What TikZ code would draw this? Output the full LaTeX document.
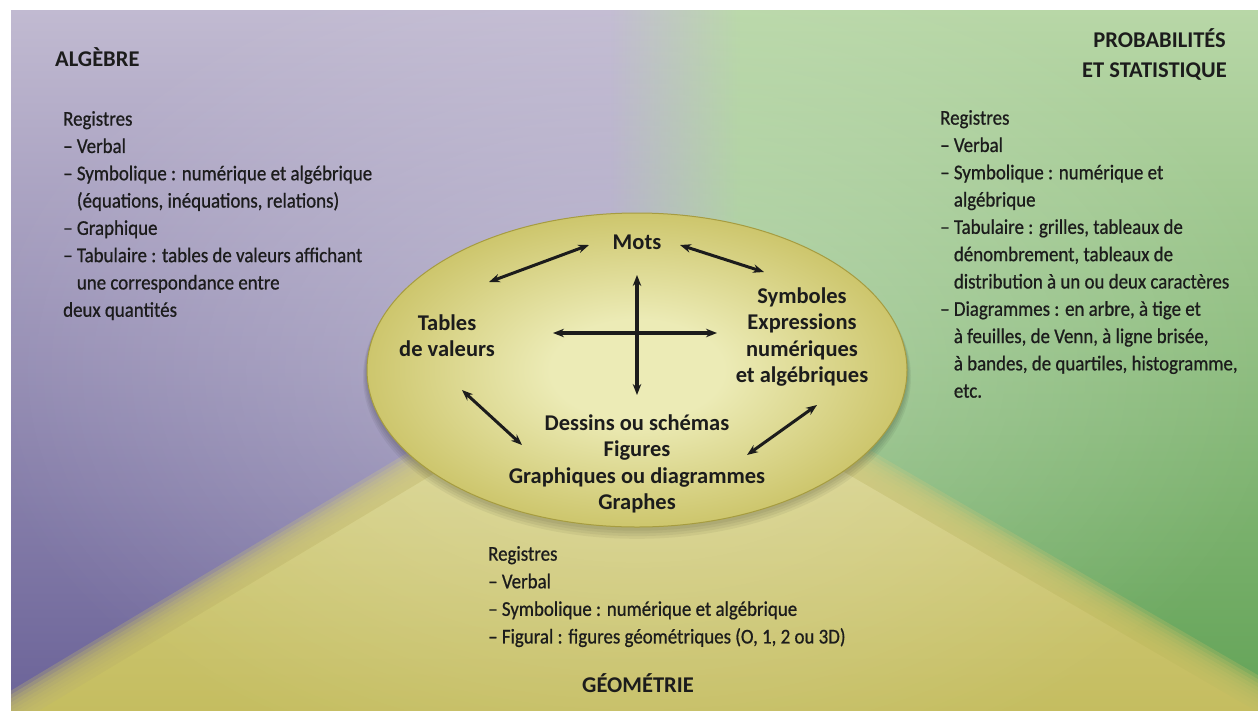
\documentclass[tikz,border=0pt]{standalone}
\usepackage{fontspec}
\setmainfont{Carlito}
\newfontfamily\regfont[FakeStretch=0.9,FakeBold=0.7]{Carlito}
\usetikzlibrary{arrows.meta,fadings,shadings}
\definecolor{purpTop}{HTML}{C1BAD1}
\definecolor{purpMid}{HTML}{9E97C0}
\definecolor{purpBot}{HTML}{6B6398}
\definecolor{grTop}{HTML}{B8D7A7}
\definecolor{grMid}{HTML}{8CC07A}
\definecolor{grBot}{HTML}{63A357}
\definecolor{yelTop}{HTML}{D8D48C}
\definecolor{yelBot}{HTML}{C2BA5A}
\definecolor{yelMid}{HTML}{C8C065}
\definecolor{ellIn}{HTML}{ECEBB6}
\definecolor{ellOut}{HTML}{C4BB57}
\definecolor{ellRim}{HTML}{A69C40}
\definecolor{ink}{HTML}{1C1C1C}
\tikzfading[name=fadein, left color=transparent!100, right color=transparent!0]
\tikzfading[name=glowfade, inner color=transparent!0, outer color=transparent!100]
\pgfdeclareradialshading{ellshade}{\pgfpoint{0bp}{0bp}}{color(0bp)=(ellIn); color(8bp)=(ellIn); color(30bp)=(ellOut); color(50bp)=(ellOut)}
\tikzset{
  reg/.style={font=\regfont\fontsize{21}{27.3}\selectfont, text=ink, align=left, inner sep=0pt, anchor=north west},
  regb/.style={font=\regfont\fontsize{21}{27.6}\selectfont, text=ink, align=left, inner sep=0pt, anchor=north west},
  ttl/.style={font=\bfseries\fontsize{22.5}{30}\selectfont, text=ink, inner sep=0pt},
  elltxt/.style={font=\bfseries\fontsize{22.5}{26.4}\selectfont, text=ink, align=center, inner sep=0pt, anchor=north},
  biarrow/.style={line width=3pt, draw=ink, {Stealth[length=11pt,width=8.5pt]}-{Stealth[length=11pt,width=8.5pt]}},
}
\newcommand{\ind}{\phantom{–\ }}
\begin{document}
\begin{tikzpicture}[x=1pt,y=-1pt]
\useasboundingbox (0,0) rectangle (1258,710);
\fill[white] (0,0) rectangle (1258,710);
\begin{scope}
\clip (11,10) rectangle (1258,710);
% purple base
\shade[top color=purpTop, middle color=purpMid, bottom color=purpBot] (11,10) rectangle (1258,710);
% green side with soft left edge
\shade[top color=grTop, middle color=grMid, bottom color=grBot, path fading=fadein] (610,10) rectangle (740,710);
\shade[top color=grTop, middle color=grMid, bottom color=grBot] (740,10) rectangle (1258,710);
% yellow triangle with soft edges
\foreach \h in {-20,-16,...,20} {
  \fill[yelMid, fill opacity=0.28] (637,{335-\h}) -- ({637-(425+\h)/0.6},760) -- ({637+(425+\h)/0.58},760) -- cycle;
}
\shade[top color=yelTop, bottom color=yelBot] (637,352) -- ({637-408/0.6},760) -- ({637+408/0.58},760) -- cycle;
% glow around ellipse
\fill[white, fill opacity=0.32, path fading=glowfade] (637,370) ellipse [x radius=660, y radius=430];
% shadow
\foreach \k in {1,...,4} {
  \fill[black, fill opacity=0.05] (637,{371+\k*1.5}) ellipse [x radius={270+\k}, y radius={157+\k*1.2}];
}
\end{scope}
% ellipse
\shade[shading=ellshade] (637,370) ellipse [x radius=270, y radius=157];
\draw[ellRim, line width=1pt] (637,370) ellipse [x radius=270, y radius=157];

% titles
\node[ttl, anchor=base west] (alg) at (55,66) {ALGÈBRE};
\node[ttl, anchor=base east] (prob1) at (1226,47) {PROBABILITÉS};
\node[ttl, anchor=base east] (prob2) at (1227,77) {ET STATISTIQUE};
\node[ttl, anchor=base] (geo) at (638,692) {GÉOMÉTRIE};

% register lists
\node[reg] (algreg) at (63,111) {Registres\\
– Verbal\\
– Symbolique : numérique et algébrique\\
\ind(équations, inéquations, relations)\\
– Graphique\\
– Tabulaire : tables de valeurs affichant\\
\ind une correspondance entre\\
deux quantités};

\node[reg] (probreg) at (940,110) {Registres\\
– Verbal\\
– Symbolique : numérique et\\
\ind algébrique\\
– Tabulaire : grilles, tableaux de\\
\ind dénombrement, tableaux de\\
\ind distribution à un ou deux caractères\\
– Diagrammes : en arbre, à tige et\\
\ind à feuilles, de Venn, à ligne brisée,\\
\ind à bandes, de quartiles, histogramme,\\
\ind etc.};

\node[regb] (georeg) at (488,546) {Registres\\
– Verbal\\
– Symbolique : numérique et algébrique\\
– Figural : figures géométriques (O, 1, 2 ou 3D)};

% ellipse texts
\node[elltxt, anchor=base] (mots) at (637,249) {Mots};
\node[elltxt] (tables) at (447,314.5) {Tables\\de valeurs};
\node[elltxt] (symb) at (802,287.5) {Symboles\\Expressions\\numériques\\et algébriques};
\node[elltxt] (dessins) at (637,414.5) {Dessins ou schémas\\Figures\\Graphiques ou diagrammes\\Graphes};

% arrow end points
\coordinate (a1s) at (489,282); \coordinate (a1e) at (589,245);
\coordinate (a2s) at (680,245); \coordinate (a2e) at (764,272);
\coordinate (a3s) at (462,390); \coordinate (a3e) at (522,445);
\coordinate (a4s) at (817,405); \coordinate (a4e) at (747,455);
\coordinate (hl) at (553,333); \coordinate (hr) at (717,333);
\coordinate (vt) at (637,275); \coordinate (vb) at (637,395);

\draw[biarrow] (a1s) -- (a1e);
\draw[biarrow] (a2s) -- (a2e);
\draw[biarrow] (a3s) -- (a3e);
\draw[biarrow] (a4s) -- (a4e);
\draw[biarrow, line width=3.6pt] (hl) -- (hr);
\draw[biarrow, line width=3.6pt] (vt) -- (vb);
\end{tikzpicture}
\end{document}
